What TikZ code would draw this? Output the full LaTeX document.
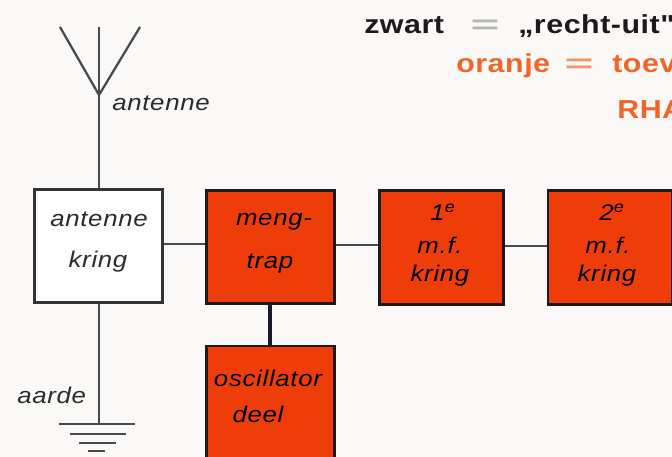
\documentclass[tikz,border=0pt]{standalone}
\usepackage{fontspec}
\setmainfont{Liberation Sans}
\newfontfamily\lblfont[FakeStretch=1.14,LetterSpace=3]{Liberation Sans}
\newfontfamily\legfont[FakeStretch=1.17,LetterSpace=2]{Liberation Sans}
\definecolor{paper}{HTML}{FAF9F7}
\definecolor{boxorange}{HTML}{EE3D08}
\definecolor{txtorange}{HTML}{F0662A}
\definecolor{ink}{HTML}{1C1A1A}
\definecolor{wire}{HTML}{4A4A4A}
\definecolor{eqgrey}{HTML}{B8B8AE}
\tikzset{
  x=0.75pt,y=-0.75pt,
  blockbox/.style={draw=ink,line width=2.2pt,fill=boxorange,inner sep=0pt,text=ink},
  whitebox/.style={draw=wire!70!black,line width=2pt,fill=white,inner sep=0pt,text=wire!60!black},
  lbl/.style={font=\lblfont\itshape\fontsize{17}{29}\selectfont,align=center,inner sep=0pt},
  legend/.style={font=\legfont\bfseries\fontsize{19.5}{19.5}\selectfont,inner sep=0pt,anchor=base west},
  eqsign/.style={font=\bfseries\fontsize{19.5}{19.5}\selectfont,inner sep=0pt,xscale=1.9},
  wireline/.style={draw=wire,line width=1.7pt},
  gnd/.style={draw=wire,line width=1.7pt},
}
\begin{document}
\begin{tikzpicture}
\useasboundingbox (0,0) rectangle (672,457);
\clip (0,0) rectangle (672,457);
\fill[paper] (0,0) rectangle (672,457);
% blocks
\node[whitebox,minimum width=96pt,minimum height=85pt] (ant) at (98.5,246) {};
\node[blockbox,minimum width=96pt,minimum height=85pt] (meng) at (270.5,247) {};
\node[blockbox,minimum width=93pt,minimum height=86pt] (mf1) at (441.5,247.5) {};
\node[blockbox,minimum width=93pt,minimum height=86pt] (mf2) at (610,247.5) {};
\node[blockbox,minimum width=96pt,minimum height=90pt] (osc) at (270.5,406) {};
% block texts
\node[lbl,text=wire!60!black] (anta) at (99,219) {antenne};
\node[lbl,text=wire!60!black] (antb) at (98,262) {kring};
\node[lbl] (menga) at (274,222) {meng-};
\node[lbl] (mengb) at (270,264) {trap};
\node[lbl] (mf1a) at (443,212) {1\textsuperscript{e}};
\node[lbl] (mf1b) at (440,245) {m.f.};
\node[lbl] (mf1c) at (440,276) {kring};
\node[lbl] (mf2a) at (612,212) {2\textsuperscript{e}};
\node[lbl] (mf2b) at (608,245) {m.f.};
\node[lbl] (mf2c) at (607,276) {kring};
\node[lbl] (osca) at (268,378) {oscillator};
\node[lbl] (oscb) at (258,414) {deel};
% connectors
\draw[wireline] (ant.east |- 0,244) -- (meng.west |- 0,244);
\draw[wireline] (meng.east |- 0,245) -- (mf1.west |- 0,245);
\draw[wireline] (mf1.east |- 0,246) -- (mf2.west |- 0,246);
\draw[draw=ink!90!blue,line width=2.4pt] (meng.south -| 270,0) -- (osc.north -| 270,0);
% antenna
\coordinate (tip) at (99,95);
\coordinate (top) at (99,27);
\coordinate (armL) at (60,27);
\coordinate (armR) at (140,27);
\draw[wireline,line join=miter] (armL) -- (tip) -- (armR);
\draw[wireline] (top) -- (tip) -- (ant.north -| tip);
\node[lbl,anchor=base west,text=wire!60!black] (antlbl) at (112,110) {antenne};
% earth
\coordinate (g1) at (99,424);
\draw[wireline] (ant.south -| g1) -- (g1);
\draw[gnd] (59,424) -- (135,424);
\draw[gnd] (70,434) -- (126,434);
\draw[gnd] (79,443) -- (116,443);
\draw[gnd] (88,451) -- (105,451);
\node[lbl,anchor=base west,text=wire!60!black] (aarde) at (17,403) {aarde};
% legend
\node[legend,text=ink] (z) at (364,33) {zwart};
\node[eqsign,text=eqgrey] (ze) at (485,27) {=};
\node[legend,text=ink] (zr) at (518,33) {„recht-uit"};
\node[legend,text=txtorange] (o) at (456,72) {oranje};
\node[eqsign,text=txtorange!70] (oe) at (579,66) {=};
\node[legend,text=txtorange] (ot) at (612,72) {toev};
\node[legend,text=txtorange] (r) at (617,118) {RHA};
\end{tikzpicture}
\end{document}
